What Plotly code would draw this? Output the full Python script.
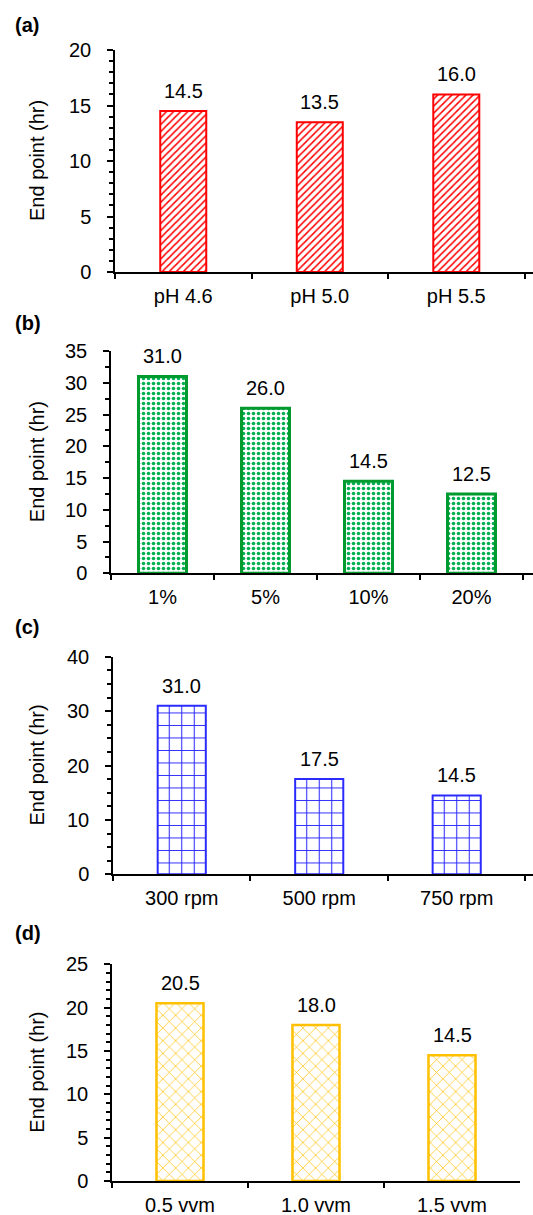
import plotly.graph_objects as go

# ---- data ----
cats_a = ["pH 4.6", "pH 5.0", "pH 5.5"]
vals_a = [14.5, 13.5, 16.0]
cats_b = ["1%", "5%", "10%", "20%"]
vals_b = [31.0, 26.0, 14.5, 12.5]
cats_c = ["300 rpm", "500 rpm", "750 rpm"]
vals_c = [31.0, 17.5, 14.5]
cats_d = ["0.5 vvm", "1.0 vvm", "1.5 vvm"]
vals_d = [20.5, 18.0, 14.5]

panel_labels = ["(a)", "(b)", "(c)", "(d)"]
y_title = "End point (hr)"

W, H = 533, 1215
FONT = "Arial, Liberation Sans, sans-serif"

def px_x(v):
    return v / W

def px_y(v):
    return 1 - v / H

panels = [
    dict(cats=cats_a, vals=vals_a, line="#FF0000", fg="#FF0000", shape="/", size=5, sol=0.3,
         ymax=20, dtick=5, minor=1, xl=115, xr=533, yt=50, yb=272, bw=0.337, xend=2.562, lw=2),
    dict(cats=cats_b, vals=vals_b, line="#009A2E", fg="#00B050", shape=".", size=5, sol=0.4,
         ymax=35, dtick=5, minor=2.5, xl=111, xr=533, yt=351, yb=573.3, bw=0.466, xend=3.597, lw=3),
    dict(cats=cats_c, vals=vals_c, line="#2B2BFF", fg="#2B2BFF", shape="+", size=12.5, sol=0.16,
         ymax=40, dtick=10, minor=2.5, xl=113, xr=533, yt=656.7, yb=874.3, bw=0.35, xend=2.555, lw=2),
    dict(cats=cats_d, vals=vals_d, line="#FFC000", fg="#FFC000", shape="x", size=9, sol=0.15,
         ymax=25, dtick=5, minor=1, xl=112, xr=520, yt=964.3, yb=1181, bw=0.346, xend=2.5, lw=2.5),
]
label_y = [25, 323, 627, 933]

fig = go.Figure()
annotations = []
layout = {}
for i, p in enumerate(panels):
    n = "" if i == 0 else str(i + 1)
    xa, ya = "x" + n, "y" + n
    fig.add_trace(go.Bar(
        x=p["cats"], y=p["vals"], xaxis=xa, yaxis=ya, width=p["bw"],
        marker=dict(color="white", line=dict(color=p["line"], width=p["lw"]),
                    pattern=dict(shape=p["shape"], fgcolor=p["fg"], bgcolor="white",
                                 size=p["size"], solidity=p["sol"], fillmode="replace")),
        showlegend=False, hoverinfo="skip",
    ))
    layout["xaxis" + n] = dict(
        domain=[px_x(p["xl"]), px_x(p["xr"])], anchor=ya, type="category",
        range=[-0.5, p["xend"]], showline=True, linecolor="black", linewidth=1.5,
        ticks="outside", ticklen=5, tickcolor="black", tickwidth=1.5, tickson="boundaries",
        showgrid=False, zeroline=False, tickfont=dict(family=FONT, size=20, color="black"),
        ticklabelstandoff=5,
    )
    layout["yaxis" + n] = dict(
        domain=[px_y(p["yb"]), px_y(p["yt"])], anchor=xa,
        range=[0, p["ymax"]], dtick=p["dtick"], tick0=0, showline=True, linecolor="black",
        linewidth=1.5, ticks="outside", ticklen=6, tickcolor="black", tickwidth=1.5,
        minor=dict(ticks="outside", ticklen=4, dtick=p["minor"], tick0=0,
                   tickcolor="black", tickwidth=1.5, showgrid=False),
        showgrid=False, zeroline=False, tickfont=dict(family=FONT, size=20, color="black"),
        ticklabelstandoff=12,
    )
    for c, v in zip(p["cats"], p["vals"]):
        annotations.append(dict(x=c, y=v, xref=xa, yref=ya, text=f"{v:.1f}", showarrow=False,
                                yshift=20, font=dict(family=FONT, size=20, color="black")))
    annotations.append(dict(x=px_x(37), y=(px_y(p["yt"]) + px_y(p["yb"])) / 2, xref="paper", yref="paper",
                            xanchor="center", yanchor="middle",
                            text=y_title, textangle=-90, showarrow=False,
                            font=dict(family=FONT, size=20, color="black")))
    annotations.append(dict(x=px_x(13), y=px_y(label_y[i]), xref="paper", yref="paper",
                            xanchor="left", yanchor="middle",
                            text="<b>" + panel_labels[i] + "</b>", showarrow=False,
                            font=dict(family=FONT, size=20, color="black")))

fig.update_layout(
    width=W, height=H, margin=dict(l=0, r=0, t=0, b=0, autoexpand=False),
    paper_bgcolor="white", plot_bgcolor="white",
    annotations=annotations, **layout,
)
fig.write_html("out.html", config={"displayModeBar": False},
               post_script="document.body.style.margin='0';document.body.style.overflow='hidden';")
